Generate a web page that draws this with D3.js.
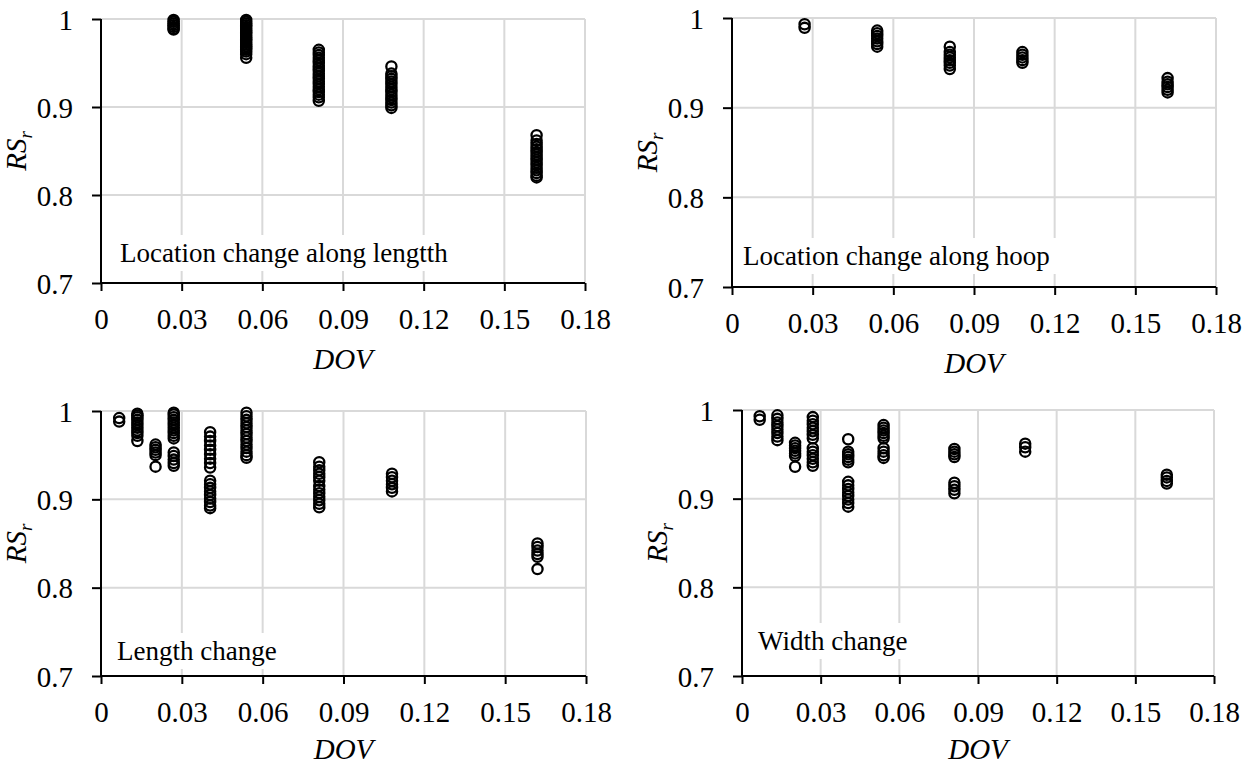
<!DOCTYPE html>
<html>
<head>
<meta charset="utf-8">
<script src="https://cdn.jsdelivr.net/npm/d3@7/dist/d3.min.js"></script>
<style>
  html, body { margin: 0; padding: 0; background: #fff; }
  svg { display: block; font-family: 'Liberation Serif', 'Times New Roman', serif; }
  svg text { font-family: 'Liberation Serif', 'Times New Roman', serif; }
</style>
</head>
<body>
<svg id="chart" width="1253" height="767"></svg>
<script>
// Axis ticks shared by all four panels
const xTicks = [0, 0.03, 0.06, 0.09, 0.12, 0.15, 0.18];
const yTicks = [0.7, 0.8, 0.9, 1];
const xTickLabels = ["0", "0.03", "0.06", "0.09", "0.12", "0.15", "0.18"];
const yTickLabels = ["0.7", "0.8", "0.9", "1"];

// RSr values for each DOV level, one array per damage scenario
const locationLength = [
  { dov: 0.027, rs: [0.999, 0.997, 0.995, 0.993, 0.991, 0.989, 0.988] },
  { dov: 0.054, rs: [0.999, 0.997, 0.995, 0.993, 0.991, 0.989, 0.987, 0.985, 0.983, 0.981, 0.979, 0.977, 0.975, 0.973, 0.971, 0.969, 0.967, 0.965, 0.963, 0.960, 0.956] },
  { dov: 0.081, rs: [0.965, 0.962, 0.959, 0.956, 0.953, 0.950, 0.947, 0.944, 0.941, 0.938, 0.935, 0.932, 0.929, 0.926, 0.923, 0.920, 0.917, 0.914, 0.911, 0.907] },
  { dov: 0.108, rs: [0.946, 0.938, 0.935, 0.932, 0.929, 0.926, 0.923, 0.920, 0.917, 0.914, 0.911, 0.908, 0.905, 0.902, 0.899] },
  { dov: 0.162, rs: [0.868, 0.862, 0.858, 0.855, 0.852, 0.849, 0.846, 0.843, 0.840, 0.837, 0.834, 0.831, 0.828, 0.825, 0.822, 0.820] }
];

const locationHoop = [
  { dov: 0.027, rs: [0.993, 0.989] },
  { dov: 0.054, rs: [0.986, 0.983, 0.980, 0.977, 0.974, 0.971, 0.968] },
  { dov: 0.081, rs: [0.968, 0.962, 0.959, 0.956, 0.953, 0.950, 0.947, 0.943] },
  { dov: 0.108, rs: [0.962, 0.959, 0.956, 0.953, 0.950] },
  { dov: 0.162, rs: [0.933, 0.929, 0.926, 0.923, 0.920, 0.917] }
];

const lengthChange = [
  { dov: 0.00675, rs: [0.992, 0.988] },
  { dov: 0.0135, rs: [0.997, 0.995, 0.993, 0.990, 0.987, 0.984, 0.981, 0.978, 0.975, 0.972, 0.966] },
  { dov: 0.02025, rs: [0.962, 0.959, 0.956, 0.953, 0.950, 0.937] },
  { dov: 0.027, rs: [0.998, 0.996, 0.993, 0.990, 0.987, 0.984, 0.981, 0.978, 0.975, 0.972, 0.969, 0.953, 0.949, 0.945, 0.941, 0.938] },
  { dov: 0.0405, rs: [0.976, 0.971, 0.966, 0.961, 0.956, 0.951, 0.946, 0.941, 0.936, 0.921, 0.917, 0.913, 0.909, 0.905, 0.901, 0.897, 0.893, 0.890] },
  { dov: 0.054, rs: [0.998, 0.994, 0.990, 0.986, 0.982, 0.978, 0.974, 0.970, 0.966, 0.962, 0.958, 0.954, 0.950, 0.947] },
  { dov: 0.081, rs: [0.942, 0.937, 0.933, 0.929, 0.925, 0.921, 0.915, 0.911, 0.907, 0.903, 0.899, 0.895, 0.891] },
  { dov: 0.108, rs: [0.929, 0.925, 0.921, 0.917, 0.913, 0.909] },
  { dov: 0.162, rs: [0.850, 0.846, 0.842, 0.838, 0.835, 0.821] }
];

const widthChange = [
  { dov: 0.00675, rs: [0.993, 0.989] },
  { dov: 0.0135, rs: [0.994, 0.990, 0.986, 0.982, 0.978, 0.974, 0.970, 0.966] },
  { dov: 0.02025, rs: [0.963, 0.960, 0.957, 0.954, 0.951, 0.948, 0.936] },
  { dov: 0.027, rs: [0.992, 0.988, 0.984, 0.980, 0.976, 0.972, 0.968, 0.957, 0.953, 0.949, 0.945, 0.941, 0.937] },
  { dov: 0.0405, rs: [0.967, 0.953, 0.950, 0.947, 0.944, 0.941, 0.919, 0.915, 0.911, 0.907, 0.903, 0.899, 0.895, 0.891] },
  { dov: 0.054, rs: [0.983, 0.980, 0.977, 0.974, 0.971, 0.968, 0.957, 0.953, 0.949, 0.946] },
  { dov: 0.081, rs: [0.956, 0.953, 0.950, 0.947, 0.918, 0.914, 0.910, 0.906] },
  { dov: 0.108, rs: [0.962, 0.958, 0.953] },
  { dov: 0.162, rs: [0.927, 0.924, 0.920, 0.917] }
];

// Panel frames: plot box and the caption placement inside it
const panels = [
  { data: locationLength, caption: "Location change along lengtth", x0: 101, x1: 585, yTop: 19, yBot: 283, capX: 120, capY: 262 },
  { data: locationHoop,   caption: "Location change along hoop",    x0: 732, x1: 1216, yTop: 18, yBot: 287, capX: 743, capY: 265 },
  { data: lengthChange,   caption: "Length change",                 x0: 101, x1: 586, yTop: 411, yBot: 676, capX: 117, capY: 660 },
  { data: widthChange,    caption: "Width change",                  x0: 742, x1: 1214, yTop: 410, yBot: 676, capX: 758, capY: 650 }
];

const svg = d3.select("#chart");
const gridColor = "#d9d9d9";
const serif = "'Liberation Serif', 'Times New Roman', serif";

panels.forEach(p => {
  const x = d3.scaleLinear().domain([0, 0.18]).range([p.x0, p.x1]);
  const y = d3.scaleLinear().domain([0.7, 1]).range([p.yBot, p.yTop]);
  const g = svg.append("g");

  // grid
  g.append("g").selectAll("line").data(xTicks.slice(1)).join("line")
    .attr("x1", d => x(d)).attr("x2", d => x(d))
    .attr("y1", p.yTop).attr("y2", p.yBot)
    .attr("stroke", gridColor).attr("stroke-width", 2);
  g.append("g").selectAll("line").data(yTicks.slice(1)).join("line")
    .attr("x1", p.x0).attr("x2", p.x1)
    .attr("y1", d => y(d)).attr("y2", d => y(d))
    .attr("stroke", gridColor).attr("stroke-width", 2);

  // caption with a white backing box that hides the grid under it
  const capG = g.append("g");
  const cap = capG.append("text")
    .attr("x", p.capX).attr("y", p.capY)
    .attr("font-size", 27).attr("fill", "#000")
    .style("font-family", serif)
    .text(p.caption);
  const bb = cap.node().getBBox();
  capG.insert("rect", "text")
    .attr("x", bb.x - 8).attr("y", bb.y - 3)
    .attr("width", bb.width + 16).attr("height", bb.height + 6)
    .attr("fill", "#fff");

  // axes
  const xAxis = d3.axisBottom(x).tickValues(xTicks).tickSize(8).tickFormat((d, i) => xTickLabels[i]);
  const yAxis = d3.axisLeft(y).tickValues(yTicks).tickSize(9).tickFormat((d, i) => yTickLabels[i]);

  const gx = g.append("g").attr("transform", `translate(0,${p.yBot})`).call(xAxis);
  const gy = g.append("g").attr("transform", `translate(${p.x0},0)`).call(yAxis);
  [gx, gy].forEach(a => {
    a.attr("font-family", null);
    a.select(".domain").attr("stroke", "#000").attr("stroke-width", 2);
    a.selectAll(".tick line").attr("stroke", "#000").attr("stroke-width", 2);
    a.selectAll(".tick text").attr("font-size", 29).attr("fill", "#000")
      .style("font-family", serif);
  });
  gx.select(".domain").attr("d", `M${p.x0},0H${p.x1}`);
  gy.select(".domain").attr("d", `M0,${p.yTop}V${p.yBot}`);
  gx.selectAll(".tick text").attr("dy", null).attr("y", 46);
  gy.selectAll(".tick text").attr("dy", null).attr("x", -28).attr("y", 10);

  // axis titles
  g.append("text")
    .attr("x", (p.x0 + p.x1) / 2).attr("y", Math.min(p.yBot + 86, 759))
    .attr("text-anchor", "middle").attr("font-size", 29)
    .attr("font-style", "italic").attr("fill", "#000")
    .style("font-family", serif)
    .text("DOV");
  const yl = g.append("text")
    .attr("transform", `translate(${p.x0 - 75},${(p.yTop + p.yBot) / 2}) rotate(-90)`)
    .attr("text-anchor", "middle").attr("font-size", 29)
    .attr("font-style", "italic").attr("fill", "#000")
    .style("font-family", serif);
  yl.append("tspan").text("RS");
  yl.append("tspan").attr("font-size", 19).attr("dy", 6).text("r");

  // points
  const pts = p.data.flatMap(grp => grp.rs.map(v => ({ dov: grp.dov, rs: v })));
  g.append("g").selectAll("circle").data(pts).join("circle")
    .attr("cx", d => x(d.dov)).attr("cy", d => y(d.rs))
    .attr("r", 5.1).attr("fill", "none")
    .attr("stroke", "#000").attr("stroke-width", 2.3);
});
</script>
</body>
</html>
